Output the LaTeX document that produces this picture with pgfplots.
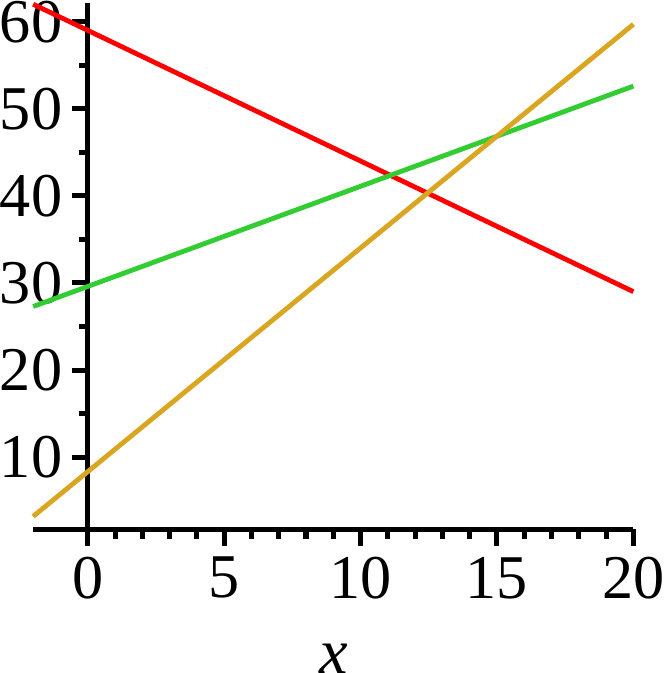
\documentclass[border=0pt]{standalone}
\usepackage{fontspec}
\setmainfont{Liberation Serif}
\usepackage{pgfplots}
\pgfplotsset{compat=1.18}
\definecolor{mred}{RGB}{255,0,0}
\definecolor{mgreen}{RGB}{50,205,50}
\definecolor{mgold}{RGB}{218,165,32}
\begin{document}
\begin{tikzpicture}
\begin{axis}[
    scale only axis,
    width=299pt,
    height=262.5pt,
    xmin=-2, xmax=20,
    ymin=1.7, ymax=62.2,
    axis x line=bottom,
    axis y line=middle,
    axis line style={line width=2.5pt,-},
    every inner y axis line/.append style={-},
    every outer x axis line/.append style={-},
    xtick={0,5,10,15,20},
    ytick={10,20,30,40,50,60},
    minor x tick num=4,
    minor y tick num=1,
    tick align=outside,
    tick style={line width=2.5pt,black},
    major tick length=8pt,
    minor tick length=4.5pt,
    hide obscured x ticks=false,
    hide obscured y ticks=false,
    /pgf/number format/assume math mode=true,
    tick label style={font=\fontsize{31}{31}\selectfont, inner sep=0pt},
    yticklabel style={xshift=-4.5pt},
    xticklabel style={yshift=-5.5pt},
    xlabel={\textit{x}},
    xlabel style={font=\fontsize{32}{32}\selectfont, inner sep=0pt,
        at={(axis description cs:0.5,0)}, anchor=base, yshift=-71.5pt},
    clip=false,
]
\addplot[mred, line width=2.4pt] coordinates {(-2,62) (20,29)};
\addplot[mgreen, line width=2.4pt] coordinates {(-2,27.3) (20,52.6)};
\addplot[mgold, line width=2.4pt] coordinates {(-2,3.2) (20,59.7)};
\end{axis}
\end{tikzpicture}
\end{document}
